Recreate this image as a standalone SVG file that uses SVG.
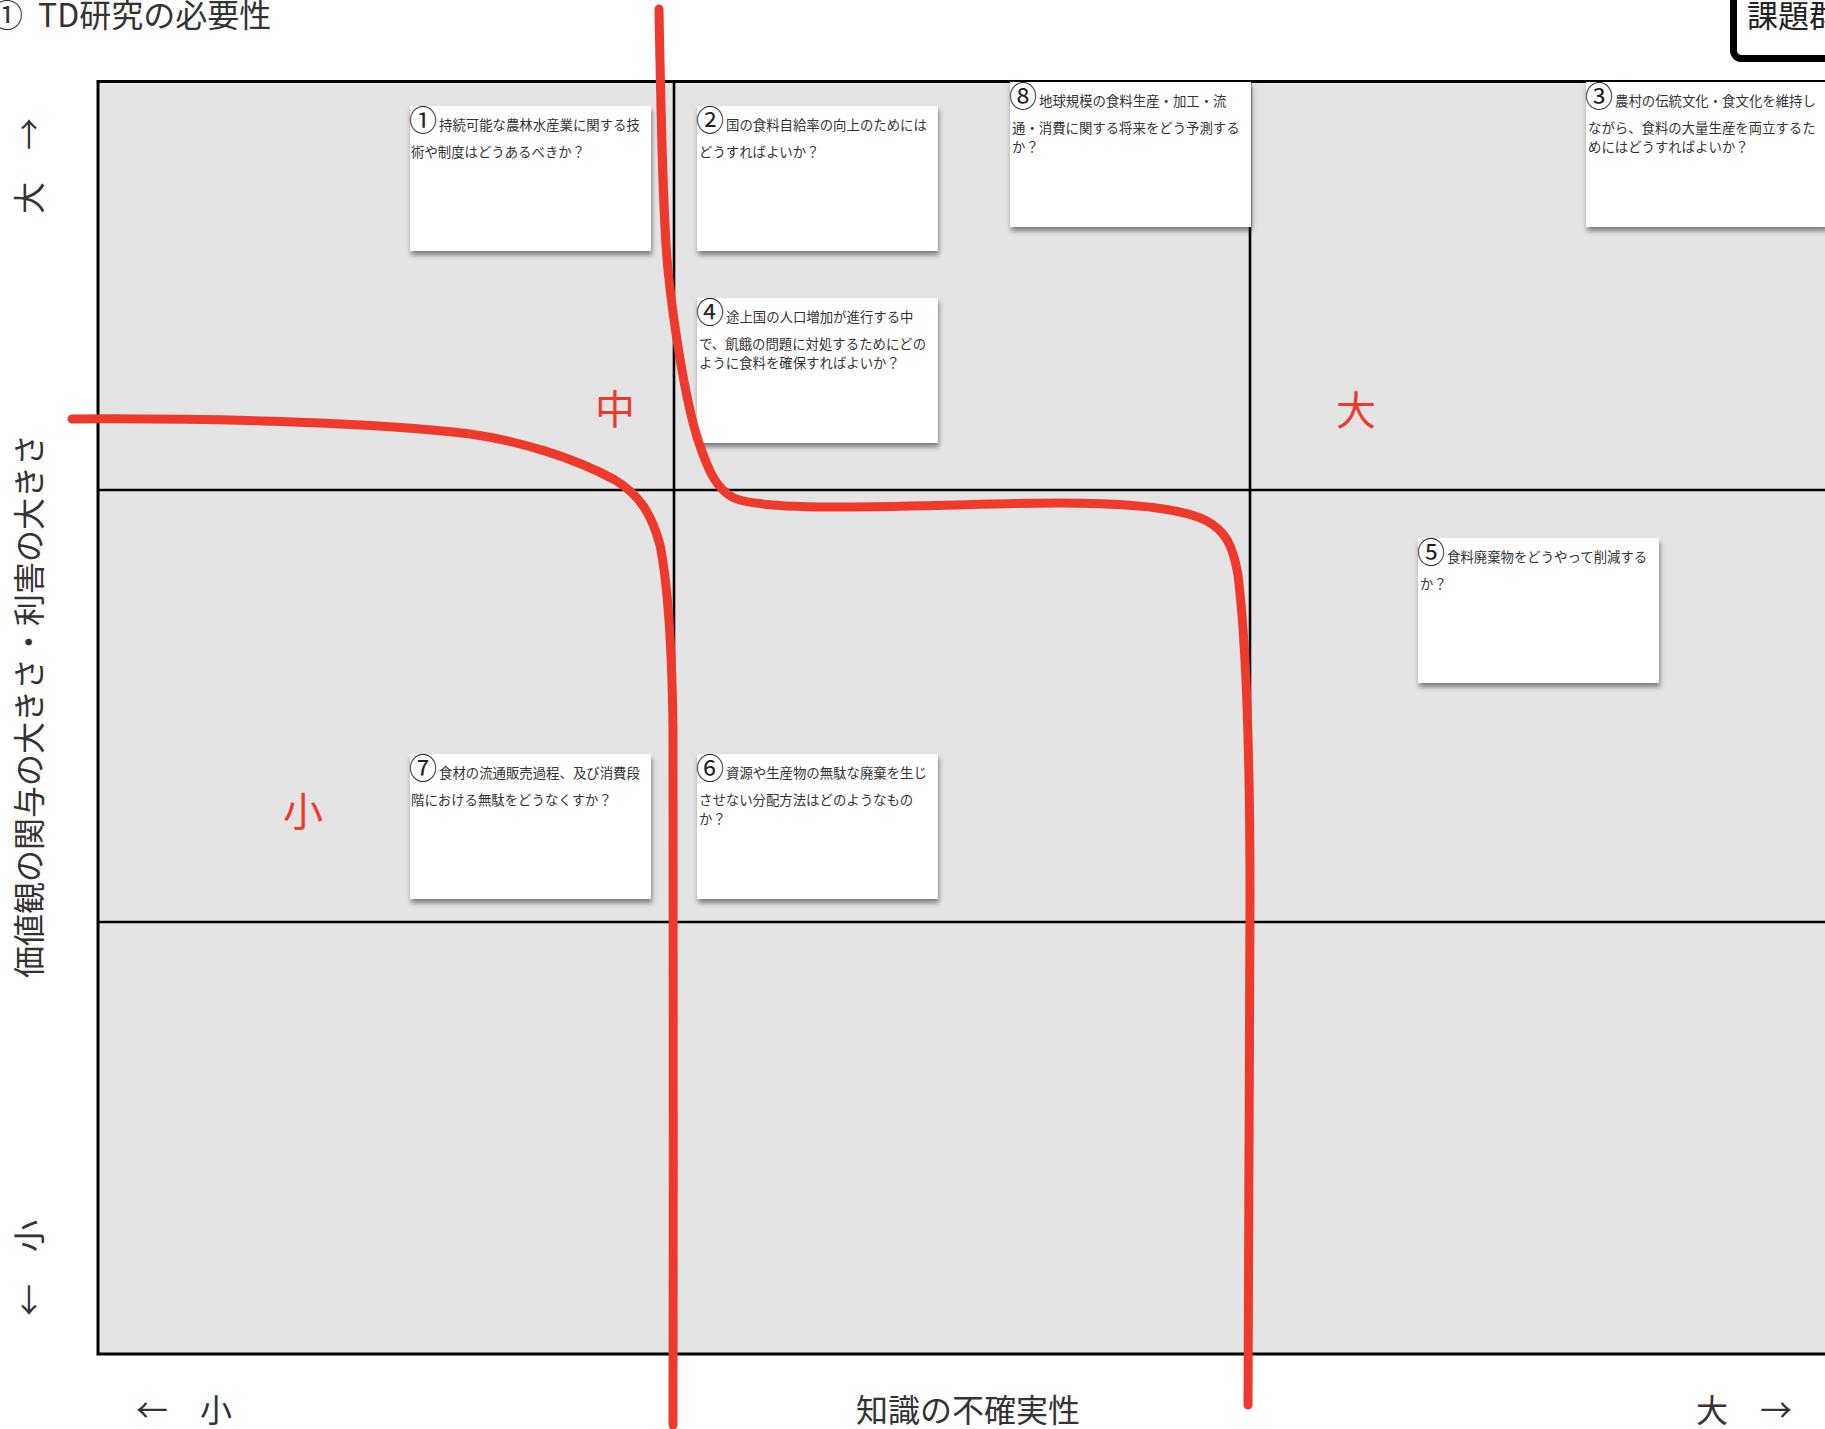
<svg xmlns="http://www.w3.org/2000/svg" width="1825" height="1429" viewBox="0 0 1825 1429">
<style>
.t{font-family:"Noto Sans CJK JP","Noto Sans",sans-serif;fill:#333}
.ax{font-size:32px}
.card{fill:#fff;filter:url(#sh)}
.ct{font-size:13.4px}
.cn{font-size:28px;fill:#222}
.red{fill:none;stroke:#ee3a2c;stroke-width:9;stroke-linecap:round;stroke-linejoin:round}
.rl{font-family:"Noto Sans CJK JP",sans-serif;font-size:40px;fill:#ee3a2c;text-anchor:middle}
.gl{stroke:#000;stroke-width:2.6;fill:none}
</style>
<defs>
<filter id="sh" x="-10%" y="-10%" width="130%" height="140%">
<feDropShadow dx="1" dy="4" stdDeviation="2.5" flood-color="#000" flood-opacity="0.45"/>
</filter>
</defs>
<rect width="1825" height="1429" fill="#fff"/>
<g id="grid">
<rect x="98" y="81.5" width="1740" height="1272.5" fill="#e4e4e4" stroke="#000" stroke-width="3"/>
<line class="gl" x1="674" y1="81" x2="674" y2="1354"/>
<line class="gl" x1="1250" y1="81" x2="1250" y2="1354"/>
<line class="gl" x1="98" y1="490" x2="1825" y2="490"/>
<line class="gl" x1="98" y1="922" x2="1825" y2="922"/>
</g>
<g id="title">
<text class="t" x="-9" y="27" font-size="32">①</text>
<text class="t" x="38" y="27" font-size="32">TD研究の必要性</text>
</g>
<g id="kadaigun">
<rect x="1733.5" y="-30" width="200" height="88.5" rx="8" fill="#fff" stroke="#000" stroke-width="7"/>
<text class="t" x="1747" y="27" font-size="31" style="fill:#222">課題群</text>
</g>
<g id="axis-y">
<text class="t ax" text-anchor="middle" transform="translate(41,706) rotate(-90)">価値観の関与の大きさ・利害の大きさ</text>
<text class="t ax" text-anchor="middle" transform="translate(41,166) rotate(-90)">大　→</text>
<text class="t ax" text-anchor="middle" transform="translate(41,1268) rotate(-90)">←　小</text>
</g>
<g id="axis-x">
<text class="t ax" text-anchor="middle" x="968" y="1422">知識の不確実性</text>
<text class="t ax" text-anchor="middle" x="184" y="1422">←　小</text>
<text class="t ax" text-anchor="middle" x="1744" y="1422">大　→</text>
</g>
<g id="card1">
<rect class="card" x="410" y="106" width="241" height="145"/>
<text class="t cn" x="409" y="131">①</text>
<text class="t ct" x="439" y="130">持続可能な農林水産業に関する技</text>
<text class="t ct" x="411" y="157">術や制度はどうあるべきか？</text>
</g>
<g id="card2">
<rect class="card" x="697" y="106" width="241" height="145"/>
<text class="t cn" x="696" y="131">②</text>
<text class="t ct" x="726" y="130">国の食料自給率の向上のためには</text>
<text class="t ct" x="699" y="157">どうすればよいか？</text>
</g>
<g id="card8">
<rect class="card" x="1010" y="82" width="241" height="145"/>
<text class="t cn" x="1009" y="107">⑧</text>
<text class="t ct" x="1039" y="106">地球規模の食料生産・加工・流</text>
<text class="t ct" x="1012" y="133">通・消費に関する将来をどう予測する</text>
<text class="t ct" x="1012" y="152">か？</text>
</g>
<g id="card3">
<rect class="card" x="1586" y="82" width="241" height="145"/>
<text class="t cn" x="1585" y="107">③</text>
<text class="t ct" x="1615" y="106">農村の伝統文化・食文化を維持し</text>
<text class="t ct" x="1588" y="133">ながら、食料の大量生産を両立するた</text>
<text class="t ct" x="1588" y="152">めにはどうすればよいか？</text>
</g>
<g id="card4">
<rect class="card" x="697" y="298" width="241" height="145"/>
<text class="t cn" x="696" y="323">④</text>
<text class="t ct" x="726" y="322">途上国の人口増加が進行する中</text>
<text class="t ct" x="699" y="349">で、飢餓の問題に対処するためにどの</text>
<text class="t ct" x="699" y="368">ように食料を確保すればよいか？</text>
</g>
<g id="card5">
<rect class="card" x="1418" y="538" width="241" height="145"/>
<text class="t cn" x="1417" y="563">⑤</text>
<text class="t ct" x="1447" y="562">食料廃棄物をどうやって削減する</text>
<text class="t ct" x="1420" y="589">か？</text>
</g>
<g id="card7">
<rect class="card" x="410" y="754" width="241" height="145"/>
<text class="t cn" x="409" y="779">⑦</text>
<text class="t ct" x="439" y="778">食材の流通販売過程、及び消費段</text>
<text class="t ct" x="411" y="805">階における無駄をどうなくすか？</text>
</g>
<g id="card6">
<rect class="card" x="697" y="754" width="241" height="145"/>
<text class="t cn" x="696" y="779">⑥</text>
<text class="t ct" x="726" y="778">資源や生産物の無駄な廃棄を生じ</text>
<text class="t ct" x="699" y="805">させない分配方法はどのようなもの</text>
<text class="t ct" x="699" y="824">か？</text>
</g>
<g id="connectors">
<path class="red" d="M 659 9 C 661 120, 663 220, 668 270 C 673 320, 685 400, 698 440 C 708 470, 716 489, 734 498 C 750 505, 790 507, 840 507 C 920 507, 1000 503, 1060 503 C 1130 503, 1180 508, 1205 520 C 1225 530, 1233 545, 1238 575 C 1246 640, 1250 760, 1250 900 C 1250 1100, 1247 1300, 1248 1405"/>
<path class="red" d="M 72 419 C 220 418, 380 423, 470 434 C 520 441, 575 458, 615 480 C 640 495, 652 515, 660 545 C 668 585, 672 650, 673 730 C 674 900, 673 1200, 673 1425"/>
</g>
<g id="levels">
<text class="rl" x="615" y="424">中</text>
<text class="rl" x="1356" y="425">大</text>
<text class="rl" x="303" y="826">小</text>
</g>
</svg>
